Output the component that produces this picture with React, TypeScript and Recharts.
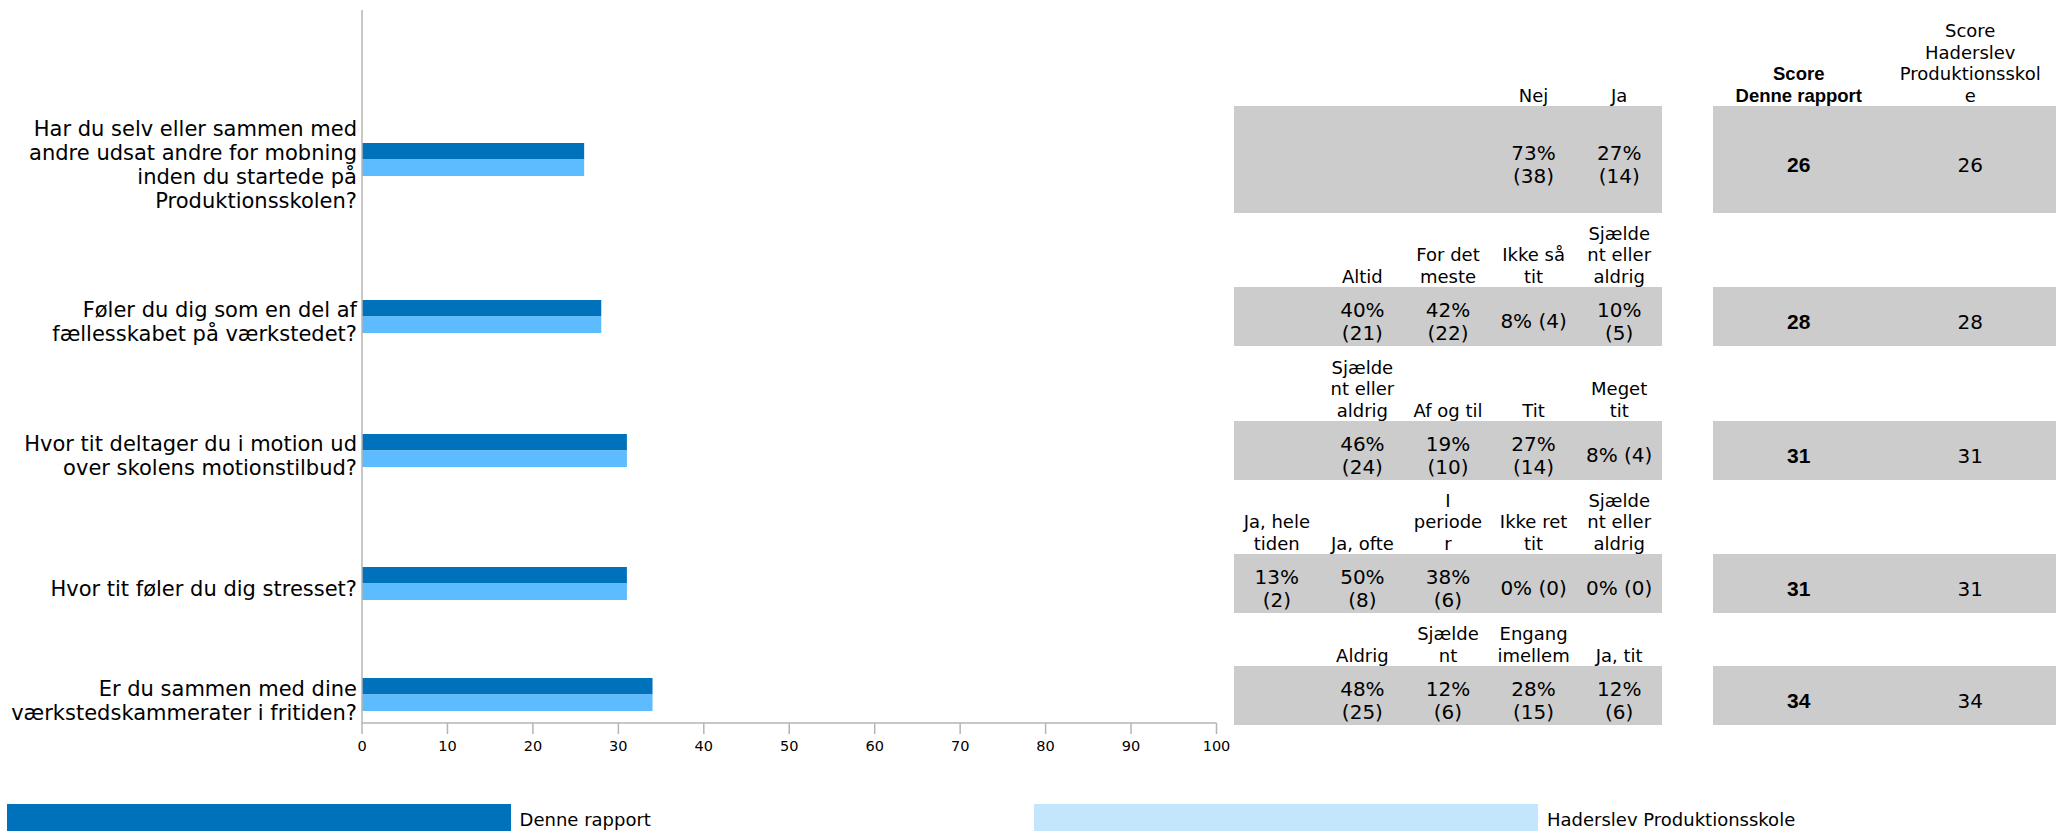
import React from "react";
import { BarChart, Bar, XAxis, YAxis } from "recharts";

// ---- data ----
const questions = [
  "Har du selv eller sammen med andre udsat andre for mobning inden du startede på Produktionsskolen?",
  "Føler du dig som en del af fællesskabet på værkstedet?",
  "Hvor tit deltager du i motion ud over skolens motionstilbud?",
  "Hvor tit føler du dig stresset?",
  "Er du sammen med dine værkstedskammerater i fritiden?",
];
const reportScores = [26, 28, 31, 31, 34];
const schoolScores = [26, 28, 31, 31, 34];

// answer labels as they wrap in the narrow table columns
const answerLabels = [
  ["Nej", "Ja"],
  ["Altid", "For det\nmeste", "Ikke så\ntit", "Sjælde\nnt eller\naldrig"],
  ["Sjælde\nnt eller\naldrig", "Af og til", "Tit", "Meget\ntit"],
  ["Ja, hele\ntiden", "Ja, ofte", "I\nperiode\nr", "Ikke ret\ntit", "Sjælde\nnt eller\naldrig"],
  ["Aldrig", "Sjælde\nnt", "Engang\nimellem", "Ja, tit"],
];
const answerPercents = [
  [73, 27],
  [40, 42, 8, 10],
  [46, 19, 27, 8],
  [13, 50, 38, 0, 0],
  [48, 12, 28, 12],
];
const answerCounts = [
  [38, 14],
  [21, 22, 4, 5],
  [24, 10, 14, 4],
  [2, 8, 6, 0, 0],
  [25, 6, 15, 6],
];
const scoreHeaders = ["Score\nDenne rapport", "Score\nHaderslev\nProduktionsskol\ne"];
const seriesNames = ["Denne rapport", "Haderslev Produktionsskole"];
const xTicks = [0, 10, 20, 30, 40, 50, 60, 70, 80, 90, 100];

// ---- layout / style ----
const SANS = '"DejaVu Sans", sans-serif';
const BOLD = '"Liberation Sans", Arial, sans-serif';
const DARK = "#0072BC";
const LIGHT = "#5CBCFF";
const LEGEND_LIGHT = "#C4E6FD";
const GRAY = "#CCCCCC";
const AXIS = "#B4B4B4";

const TOP = 10;
const HEAD_H = [96, 74, 75, 74, 53];
const BAND_H = [107, 59, 59, 59, 59];
const AXIS_X = 362;
const PLOT_W = 854.5;
const PAD_L = 9; // + 1px y-axis width = 10
const PAD_R = 24;
const X_AXIS_H = 40;

const TABLE_X = 1234;
const COL_W = 85.6;
const SCORE_X = 1713;
const SCORE_W = 171.5;

const blockTops = HEAD_H.map((_, i) =>
  HEAD_H.slice(0, i).reduce((s, h, k) => s + h + BAND_H[k], TOP)
);

const RowChart = ({ i }: { i: number }) => {
  const last = i === questions.length - 1;
  const plotH = HEAD_H[i] + BAND_H[i] - (last ? 2 : 0);
  const data = [{ q: questions[i], report: reportScores[i], school: schoolScores[i] }];
  return (
    <BarChart
      width={PLOT_W + PAD_L + 1 + PAD_R}
      height={plotH + (last ? X_AXIS_H : 0)}
      data={data}
      layout="vertical"
      margin={{ top: 0, right: PAD_R, bottom: 0, left: PAD_L }}
      barGap={0}
      barSize={16.5}
    >
      <XAxis
        type="number"
        domain={[0, 100]}
        ticks={xTicks}
        interval={0}
        hide={!last}
        height={X_AXIS_H}
        tickSize={11}
        tickMargin={7}
        axisLine={{ stroke: AXIS, strokeWidth: 1.5 }}
        tickLine={{ stroke: AXIS, strokeWidth: 1.5 }}
        tick={{ fill: "#000", fontSize: 14.5, fontFamily: SANS }}
      />
      <YAxis
        type="category"
        dataKey="q"
        width={1}
        tick={false}
        tickLine={false}
        axisLine={{ stroke: AXIS, strokeWidth: 1.5 }}
        padding={{ top: HEAD_H[i], bottom: 0 }}
      />
      <Bar dataKey="report" name={seriesNames[0]} fill={DARK} isAnimationActive={false} />
      <Bar dataKey="school" name={seriesNames[1]} fill={LIGHT} isAnimationActive={false} />
    </BarChart>
  );
};

const App: React.FC = () => {
  return (
    <div
      style={{
        position: "absolute",
        left: 0,
        top: 0,
        width: 2066,
        height: 831,
        overflow: "hidden",
        background: "#fff",
        fontFamily: SANS,
        color: "#000",
      }}
    >
      {questions.map((q, i) => {
        const top = blockTops[i];
        const bandTop = top + HEAD_H[i];
        const n = answerLabels[i].length;
        const start = 5 - n;
        return (
          <React.Fragment key={i}>
            {/* question label */}
            <div
              style={{
                position: "absolute",
                left: 0,
                top: bandTop,
                width: 357,
                height: BAND_H[i],
                boxSizing: "border-box",
                paddingTop: 10,
                display: "flex",
                alignItems: "center",
                justifyContent: "flex-end",
                textAlign: "right",
                fontSize: 21,
                lineHeight: "24px",
              }}
            >
              <div>{q}</div>
            </div>

            {/* bars */}
            <div style={{ position: "absolute", left: AXIS_X - PAD_L - 1, top }}>
              <RowChart i={i} />
            </div>

            {/* answer headers */}
            {answerLabels[i].map((lab, j) => (
              <div
                key={"h" + j}
                style={{
                  position: "absolute",
                  left: TABLE_X + (start + j) * COL_W,
                  top,
                  width: COL_W,
                  height: HEAD_H[i],
                  display: "flex",
                  flexDirection: "column",
                  justifyContent: "flex-end",
                  textAlign: "center",
                  whiteSpace: "pre",
                  fontSize: 18,
                  lineHeight: "21.3px",
                }}
              >
                {lab}
              </div>
            ))}

            {/* gray bands */}
            <div
              style={{
                position: "absolute",
                left: TABLE_X,
                top: bandTop,
                width: COL_W * 5,
                height: BAND_H[i],
                background: GRAY,
              }}
            />
            <div
              style={{
                position: "absolute",
                left: SCORE_X,
                top: bandTop,
                width: SCORE_W * 2,
                height: BAND_H[i],
                background: GRAY,
              }}
            />

            {/* answer values */}
            {answerPercents[i].map((p, j) => (
              <div
                key={"v" + j}
                style={{
                  position: "absolute",
                  left: TABLE_X + (start + j) * COL_W,
                  top: bandTop,
                  width: COL_W,
                  height: BAND_H[i],
                  boxSizing: "border-box",
                  padding: "10px 6px 0 6px",
                  display: "flex",
                  alignItems: "center",
                  justifyContent: "center",
                  textAlign: "center",
                  fontSize: 20,
                  lineHeight: "23px",
                }}
              >
                <div>{`${p}% (${answerCounts[i][j]})`}</div>
              </div>
            ))}

            {/* scores */}
            {[reportScores[i], schoolScores[i]].map((s, k) => (
              <div
                key={"s" + k}
                style={{
                  position: "absolute",
                  left: SCORE_X + k * SCORE_W,
                  top: bandTop,
                  width: SCORE_W,
                  height: BAND_H[i],
                  boxSizing: "border-box",
                  paddingTop: 10,
                  display: "flex",
                  alignItems: "center",
                  justifyContent: "center",
                  fontFamily: k === 0 ? BOLD : SANS,
                  fontWeight: k === 0 ? "bold" : "normal",
                  fontSize: k === 0 ? 21 : 20,
                }}
              >
                {s}
              </div>
            ))}
          </React.Fragment>
        );
      })}

      {/* score column headers */}
      {scoreHeaders.map((h, k) => (
        <div
          key={"sh" + k}
          style={{
            position: "absolute",
            left: SCORE_X + k * SCORE_W,
            top: blockTops[0],
            width: SCORE_W,
            height: HEAD_H[0],
            display: "flex",
            flexDirection: "column",
            justifyContent: "flex-end",
            textAlign: "center",
            whiteSpace: "pre",
            fontFamily: k === 0 ? BOLD : SANS,
            fontWeight: k === 0 ? "bold" : "normal",
            fontSize: k === 0 ? 18.5 : 18,
            lineHeight: "21.5px",
          }}
        >
          {h}
        </div>
      ))}

      {/* legend */}
      {seriesNames.map((name, k) => (
        <div
          key={"lg" + k}
          style={{
            position: "absolute",
            left: 6.6 + k * 1027.4,
            top: 804,
            height: 30,
            display: "flex",
            alignItems: "center",
            fontSize: 18,
          }}
        >
          <div style={{ width: 504, height: 30, background: k === 0 ? DARK : LEGEND_LIGHT }} />
          <span style={{ marginLeft: 9 }}>{name}</span>
        </div>
      ))}
    </div>
  );
};

export default App;
